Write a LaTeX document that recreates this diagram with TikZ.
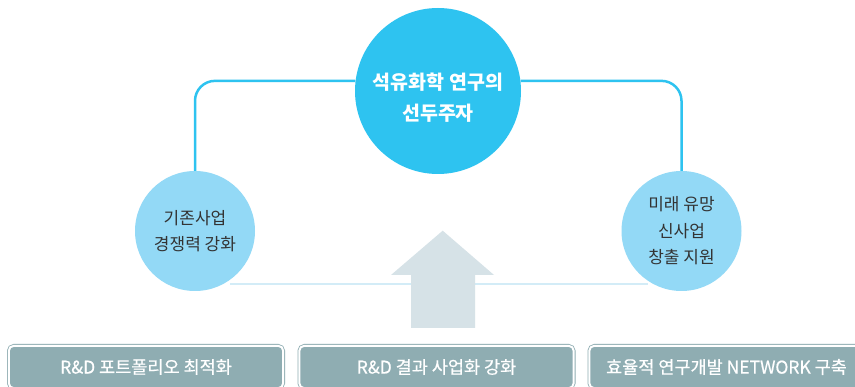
\documentclass[tikz,border=0pt]{standalone}
\usepackage{fontspec}
\setmainfont{Noto Sans CJK KR}
\newfontfamily\boxfont[FakeBold=0.6]{Noto Sans CJK KR}
\definecolor{maincyan}{HTML}{2EC3F0}
\definecolor{lightcyan}{HTML}{93D9F6}
\definecolor{boxc}{HTML}{8FADB2}
\definecolor{arrowc}{HTML}{D6E2E7}
\definecolor{faintc}{HTML}{D3ECF7}
\definecolor{darktxt}{HTML}{333333}
\begin{document}
\begin{tikzpicture}[x=1pt,y=-1pt,
  conn/.style={draw=maincyan, line width=2.5pt, rounded corners=20pt},
  bigcirc/.style={circle, fill=maincyan, minimum size=166pt, inner sep=0pt},
  maintext/.style={align=center, text=white, font=\fontsize{19.5}{31}\selectfont\bfseries},
  smallcirc/.style={circle, fill=lightcyan, minimum size=120pt, inner sep=0pt, align=center, text=darktxt, font=\fontsize{17}{26.5}\selectfont},
  boxst/.style={draw=boxc, fill=boxc, line width=0.8pt, double=white, double distance=2pt, rounded corners=5pt, minimum width=274.4pt, minimum height=42.4pt, inner sep=0pt, text=white, font=\boxfont\fontsize{17.5}{19}\selectfont},
  faint/.style={draw=faintc, line width=1.5pt}
]
\useasboundingbox (0,0) rectangle (855,387);
\clip (0,0) rectangle (855,387);
\fill[white] (0,0) rectangle (855,387);
% faint base line
\coordinate (gl) at (230,284);
\coordinate (gr) at (648,284);
\draw[faint] (gl) -- (gr);
% up arrow
\fill[arrowc] (442.7,230.7) -- (494,275) -- (475,275) -- (475,328) -- (411,328) -- (411,275) -- (391,275) -- cycle;
% circles
\node[bigcirc] (main) at (438,91) {};
\node[maintext] (maintxt) at (438,97.5) {석유화학 연구의\\선두주자};
\node[smallcirc] (left) at (195,231) {기존사업\\경쟁력 강화};
\node[smallcirc] (right) at (681.5,231) {미래 유망\\신사업\\창출 지원};
% connectors
\draw[conn] (left.north) |- (main.173);
\draw[conn] (right.north) |- (main.7);
% bottom boxes
\node[boxst] (b1) at (146,367) {R\&D 포트폴리오 최적화};
\node[boxst] (b2) at (436.5,367) {R\&D 결과 사업화 강화};
\node[boxst] (b3) at (726.5,367) {효율적 연구개발 NETWORK 구축};
\end{tikzpicture}
\end{document}
